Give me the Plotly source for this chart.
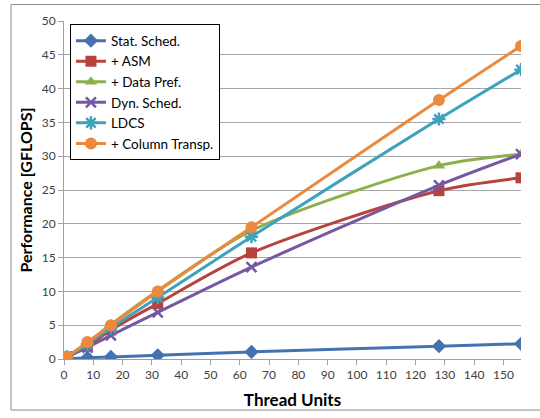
import plotly.graph_objects as go

threads = [1, 8, 16, 32, 64, 128, 156]
stat_sched = [0.05, 0.2, 0.3, 0.55, 1.05, 1.9, 2.25]
asm = [0.3, 1.9, 4.3, 8.2, 15.7, 24.9, 26.8]
data_pref = [0.3, 2.4, 5.1, 10.1, 19.0, 28.6, 30.3]
dyn_sched = [0.3, 1.7, 3.5, 6.9, 13.6, 25.7, 30.3]
ldcs = [0.3, 2.2, 4.6, 9.1, 18.1, 35.5, 42.8]
col_transp = [0.3, 2.5, 5.0, 10.0, 19.5, 38.3, 46.3]

names = ["Stat. Sched.", "+ ASM", "+ Data Pref.", "Dyn. Sched.", "LDCS", "+ Column Transp."]
series = [stat_sched, asm, data_pref, dyn_sched, ldcs, col_transp]
colors = ["#4472B0", "#B8423E", "#8DB04E", "#7658A0", "#3DA2BC", "#EB8A3C"]
symbols = ["diamond", "square", "triangle-up", "x-thin", "asterisk", "circle"]
sizes = [11, 11, 11, 10, 11, 12]

fig = go.Figure()
for name, ys, c, s, sz in zip(names, series, colors, symbols, sizes):
    line_marker = dict(color=c, width=2.5) if s in ("x-thin", "asterisk") else dict(color=c, width=0)
    fig.add_trace(go.Scatter(
        x=threads, y=ys, name=name, mode="lines+markers",
        line=dict(color=c, width=3, shape="spline", smoothing=0.8),
        marker=dict(symbol=s, size=sz, color=c, line=line_marker),
    ))

fig.update_layout(
    width=540, height=418,
    margin=dict(l=64, r=19, t=21, b=57),
    paper_bgcolor="white", plot_bgcolor="white",
    font=dict(family="Lato, 'Open Sans', sans-serif", color="#404040", size=12),
    showlegend=True,
    legend=dict(
        x=0.013, y=0.99, xanchor="left", yanchor="top",
        bgcolor="white", bordercolor="black", borderwidth=1,
        font=dict(size=13.5, color="black"), tracegroupgap=0,
        itemwidth=30,
    ),
    xaxis=dict(
        range=[0, 156], tickmode="linear", tick0=0, dtick=10,
        showgrid=False, showline=True, linecolor="#A0A0A0", linewidth=1,
        ticks="outside", ticklen=5, tickcolor="#A0A0A0",
        zeroline=False, tickfont=dict(size=12, color="#404040"),
        title=dict(text="<b>Thread Units</b>", font=dict(size=17, color="black"), standoff=12),
    ),
    yaxis=dict(
        range=[0, 50], tickmode="linear", tick0=0, dtick=5,
        showgrid=True, gridcolor="#A6A6A6", gridwidth=1,
        showline=True, linecolor="#A0A0A0", linewidth=1,
        ticks="outside", ticklen=5, tickcolor="#A0A0A0",
        zeroline=False, tickfont=dict(size=12, color="#404040"),
        title=dict(text="<b>Performance [GFLOPS]</b>", font=dict(size=16, color="black"), standoff=5),
    ),
    shapes=[dict(
        type="rect", xref="paper", yref="paper",
        x0=-0.116, x1=1.06, y0=-0.151, y1=1.0487,
        line=dict(color="#8C8C8C", width=1), layer="below",
    )],
)

fig.write_html("out.html")
